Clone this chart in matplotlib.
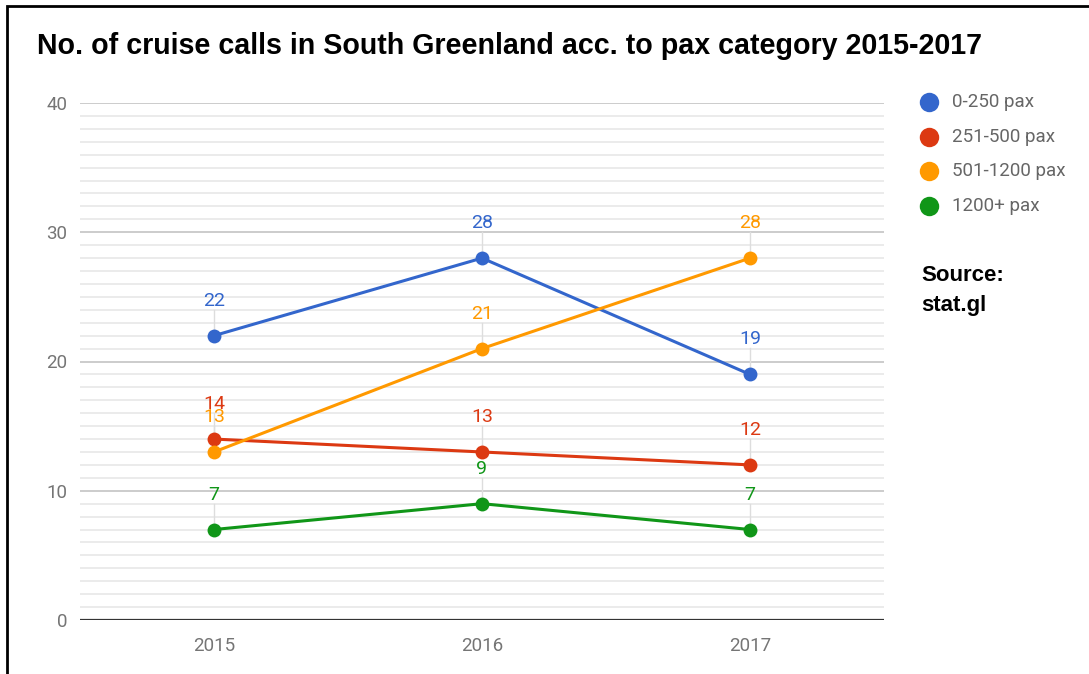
import matplotlib.pyplot as plt
from matplotlib.patches import Rectangle
from matplotlib.lines import Line2D

# ---------------- data ----------------
years = [2015, 2016, 2017]
categories = ['0-250 pax', '251-500 pax', '501-1200 pax', '1200+ pax']
calls = {
    '0-250 pax':    [22, 28, 19],
    '251-500 pax':  [14, 13, 12],
    '501-1200 pax': [13, 21, 28],
    '1200+ pax':    [7, 9, 7],
}
colors = ['#3366CC', '#DC3912', '#FF9900', '#109618']
title = 'No. of cruise calls in South Greenland acc. to pax category 2015-2017'

W, H = 1089, 674
fig = plt.figure(figsize=(W / 100, H / 100), dpi=100)
fig.patch.set_facecolor('white')

# outer black frame (runs off the right and bottom edge)
fig.add_artist(Rectangle((7 / W, -0.05), 1.1, 1 - 6 / H + 0.05,
                         transform=fig.transFigure, fill=False,
                         edgecolor='black', linewidth=2))

left, right, top, bottom = 80, 884, 103, 620
ax = fig.add_axes([left / W, 1 - bottom / H, (right - left) / W, (bottom - top) / H])
ax.set_xlim(2014.5, 2017.5)
ax.set_ylim(0, 40)
for s in ax.spines.values():
    s.set_visible(False)

# gridlines: minor every 1, major every 10
for v in range(1, 40):
    if v % 10:
        ax.axhline(v, color='#ebebeb', lw=1.4, zorder=0)
for v in (10, 20, 30, 40):
    ax.axhline(v, color='#cccccc', lw=1.4, zorder=0)
ax.axhline(0, color='#333333', lw=1.6, zorder=1)

ax.set_yticks([0, 10, 20, 30, 40])
ax.set_xticks(years)
ax.tick_params(length=0, labelsize=13.5, labelcolor='#757575', pad=9)
ax.tick_params(axis='x', pad=12)
for lab in ax.get_xticklabels() + ax.get_yticklabels():
    lab.set_fontfamily('Roboto')
for lab in ax.get_yticklabels():
    lab.set_horizontalalignment('right')

px = 40 / (bottom - top)  # data units per pixel

for i, (cat, col) in enumerate(zip(categories, colors)):
    vals = calls[cat]
    ax.plot(years, vals, color=col, lw=2.2, zorder=3 + i,
            marker='o', markersize=10, markeredgewidth=0)
    for x, y in zip(years, vals):
        ax.plot([x, x], [y, y + 26 * px], color='#dddddd', lw=1, zorder=2)
        ax.text(x, y + 35 * px, str(y), color=col, fontsize=14,
                fontfamily='Roboto', ha='center', va='center', zorder=10 + i)

fig.text(37 / W, 1 - 46 / H, title, fontsize=20.6, fontweight='bold',
         fontfamily='Liberation Sans', va='center', ha='left')

# legend
for i, (cat, col) in enumerate(zip(categories, colors)):
    y = 1 - (102 + i * 34.7) / H
    fig.add_artist(Line2D([929 / W], [y], marker='o', markersize=14,
                          color=col, markeredgewidth=0, transform=fig.transFigure))
    fig.text(952 / W, y, cat, fontsize=13.5, color='#666666', fontfamily='Roboto',
             va='center', ha='left')

fig.text(921 / W, 1 - 275 / H, 'Source:', fontsize=16, fontweight='bold',
         fontfamily='Liberation Sans', va='center', ha='left')
fig.text(921 / W, 1 - 305 / H, 'stat.gl', fontsize=16, fontweight='bold',
         fontfamily='Liberation Sans', va='center', ha='left')

fig.savefig('out.png', dpi=100)
